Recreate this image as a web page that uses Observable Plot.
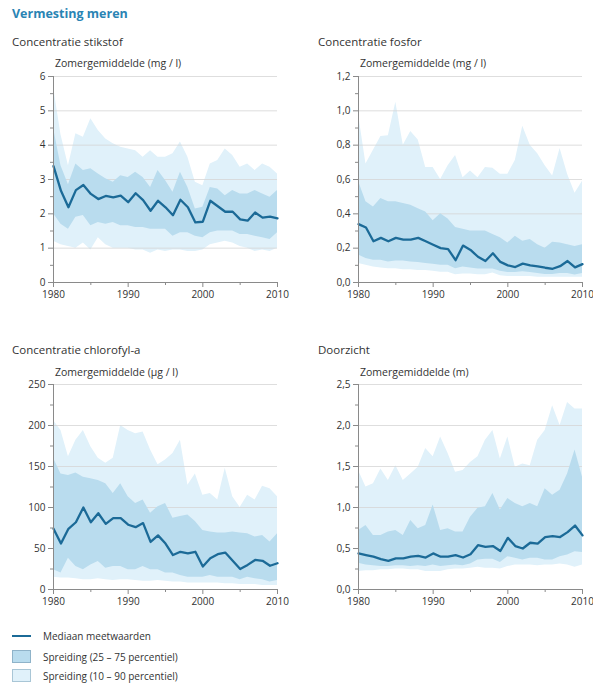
<!DOCTYPE html>
<html>
<head>
<meta charset="utf-8">
<script src="https://cdn.jsdelivr.net/npm/d3@7"></script>
<script src="https://cdn.jsdelivr.net/npm/@observablehq/plot@0.6"></script>
<style>
  body { margin:0; background:#fff; }
  #root { position:relative; width:593px; height:684px; overflow:hidden; font-family:"Open Sans", "Noto Sans", sans-serif; color:#333; }
  .t { position:absolute; white-space:nowrap; line-height:1; }
  .main { left:12px; top:8px; font-size:12.5px; font-weight:700; color:#2a84b4; }
  .ptitle { font-size:11.5px; color:#333; }
  .sub { font-size:10.5px; color:#333; }
  .chart { position:absolute; }
  .leg { font-size:10px; color:#333; }
  .sw { position:absolute; width:19px; height:13px; box-sizing:border-box; }
</style>
</head>
<body>
<div id="root">
  <div class="t main">Vermesting meren</div>
  <div class="t ptitle" style="left:12px;top:36px">Concentratie stikstof</div>
  <div class="t ptitle" style="left:318px;top:36px">Concentratie fosfor</div>
  <div class="t ptitle" style="left:12px;top:344px">Concentratie chlorofyl-a</div>
  <div class="t ptitle" style="left:318px;top:344px">Doorzicht</div>
  <div class="t sub" style="left:55px;top:58px">Zomergemiddelde (mg / l)</div>
  <div class="t sub" style="left:360px;top:58px">Zomergemiddelde (mg / l)</div>
  <div class="t sub" style="left:55px;top:367px">Zomergemiddelde (µg / l)</div>
  <div class="t sub" style="left:360px;top:367px">Zomergemiddelde (m)</div>
  <div id="c1" class="chart" style="left:0px;top:66px"></div>
  <div id="c2" class="chart" style="left:305px;top:66px"></div>
  <div id="c3" class="chart" style="left:0px;top:374px"></div>
  <div id="c4" class="chart" style="left:305px;top:374px"></div>
  <div style="position:absolute;left:12px;top:635px;width:19px;height:2px;background:#1b6a97"></div>
  <div class="t leg" style="left:43px;top:631px">Mediaan meetwaarden</div>
  <div class="sw" style="left:12px;top:650px;background:#b9dcee;border:1px solid #8fb3c9"></div>
  <div class="t leg" style="left:43px;top:652px">Spreiding (25 – 75 percentiel)</div>
  <div class="sw" style="left:12px;top:669px;background:#e0f1fa;border:1px solid #a9c6d6"></div>
  <div class="t leg" style="left:43px;top:671px">Spreiding (10 – 90 percentiel)</div>
</div>
<script>
const years = [1980,1981,1982,1983,1984,1985,1986,1987,1988,1989,1990,1991,1992,1993,1994,1995,1996,1997,1998,1999,2000,2001,2002,2003,2004,2005,2006,2007,2008,2009,2010];
const xTicks = [1980,1990,2000,2010];
const xMinor = [1985,1995,2005];

// Stikstof (mg/l)
const nMed = [3.39,2.67,2.19,2.69,2.84,2.58,2.43,2.52,2.48,2.53,2.34,2.60,2.40,2.09,2.38,2.19,1.96,2.41,2.19,1.75,1.77,2.38,2.22,2.06,2.06,1.84,1.80,2.04,1.89,1.92,1.87];
const nP10 = [1.20,1.10,1.05,1.00,1.15,0.95,1.30,1.10,1.00,1.00,1.00,0.95,0.95,0.85,0.95,0.90,0.95,0.95,0.90,0.90,0.95,1.10,1.15,1.20,1.15,1.05,1.00,0.90,0.95,0.90,1.00];
const nP25 = [2.00,1.70,1.55,1.90,1.95,1.65,1.75,1.70,1.75,1.65,1.65,1.60,1.60,1.55,1.55,1.55,1.35,1.45,1.45,1.35,1.30,1.45,1.50,1.50,1.50,1.40,1.40,1.35,1.30,1.25,1.45];
const nP75 = [4.50,3.40,2.85,3.45,3.26,3.31,3.16,3.02,2.92,3.11,3.06,3.21,3.06,2.77,3.26,2.97,2.63,3.21,2.77,2.14,2.19,2.77,2.72,2.53,2.68,2.58,2.58,2.68,2.58,2.48,2.68];
const nP90 = [5.70,4.30,3.40,4.33,4.23,4.77,4.43,4.18,4.04,3.94,3.89,3.84,3.65,3.84,3.65,3.65,3.75,4.09,3.65,2.92,2.82,3.45,3.55,3.89,3.70,3.36,3.45,3.26,3.45,3.36,3.16];

// Fosfor (mg/l)
const pMed = [0.34,0.32,0.24,0.26,0.24,0.26,0.25,0.25,0.26,0.24,0.22,0.20,0.195,0.13,0.215,0.19,0.15,0.125,0.17,0.12,0.10,0.09,0.11,0.10,0.094,0.086,0.08,0.095,0.125,0.088,0.107];
const pP10 = [0.11,0.10,0.09,0.085,0.08,0.08,0.075,0.075,0.07,0.07,0.065,0.06,0.06,0.045,0.05,0.05,0.045,0.045,0.055,0.04,0.035,0.035,0.035,0.035,0.03,0.03,0.03,0.03,0.03,0.03,0.03];
const pP25 = [0.16,0.14,0.13,0.13,0.12,0.125,0.125,0.12,0.117,0.11,0.107,0.10,0.10,0.08,0.09,0.085,0.078,0.078,0.078,0.066,0.058,0.058,0.062,0.058,0.053,0.047,0.047,0.053,0.053,0.043,0.053];
const pP75 = [0.59,0.47,0.44,0.49,0.47,0.47,0.46,0.45,0.43,0.41,0.36,0.40,0.37,0.32,0.31,0.30,0.30,0.30,0.28,0.26,0.23,0.27,0.24,0.25,0.22,0.20,0.235,0.23,0.22,0.21,0.22];
const pP90 = [0.98,0.69,0.77,0.85,0.855,1.05,0.80,0.88,0.83,0.67,0.67,0.60,0.68,0.74,0.61,0.65,0.61,0.67,0.665,0.63,0.63,0.71,0.91,0.80,0.75,0.68,0.62,0.78,0.63,0.52,0.59];

// Chlorofyl-a (µg/l)
const cMed = [74,56,74,82,100,82,93,80,87,87,79,76,81,58,66,56,42,46,44,46,28,38,43,45,35,25,30,36,35,29,32];
const cP10 = [15,14,14,13,12,12,13,12,11,12,12,11,10,10,11,10,9,9,8,8,8,8,8,7,7,6,6,6,5,5,5];
const cP25 = [24,20,38,28,24,30,34,26,28,28,24,24,28,24,24,20,20,17,15,15,15,17,15,15,15,12,15,13,12,9,11];
const cP75 = [160,141,139,142,137,135,133,129,117,129,113,105,109,93,101,105,87,89,91,83,72,70,69,69,70,69,68,64,66,58,68];
const cP90 = [206,194,162,182,194,174,160,154,160,200,194,190,192,170,152,158,166,182,127,141,115,117,109,148,113,100,115,109,126,123,113];

// Doorzicht (m)
const dMed = [0.44,0.42,0.40,0.37,0.35,0.38,0.38,0.40,0.41,0.39,0.44,0.40,0.40,0.42,0.39,0.43,0.54,0.52,0.53,0.47,0.63,0.53,0.50,0.57,0.56,0.64,0.65,0.64,0.70,0.78,0.66];
const dP10 = [0.22,0.23,0.23,0.24,0.24,0.25,0.25,0.24,0.24,0.22,0.22,0.22,0.24,0.25,0.25,0.26,0.27,0.26,0.26,0.25,0.28,0.30,0.30,0.30,0.29,0.30,0.30,0.31,0.30,0.27,0.30];
const dP25 = [0.32,0.30,0.29,0.28,0.28,0.29,0.29,0.28,0.29,0.28,0.30,0.28,0.29,0.30,0.29,0.31,0.36,0.37,0.37,0.33,0.40,0.38,0.36,0.38,0.38,0.36,0.36,0.40,0.42,0.46,0.45];
const dP75 = [0.72,0.78,0.66,0.66,0.70,0.72,0.66,0.84,0.74,0.78,1.03,0.72,0.74,0.70,0.70,0.88,0.99,1.01,1.17,0.97,1.11,1.05,1.01,1.05,1.01,1.23,1.15,1.21,1.41,1.70,1.37];
const dP90 = [1.45,1.25,1.29,1.47,1.33,1.51,1.33,1.41,1.49,1.72,1.62,1.86,1.66,1.43,1.45,1.55,1.62,1.82,1.94,1.59,1.86,1.49,1.53,1.51,1.82,1.94,2.24,2.00,2.28,2.20,2.20];

const nTicks = [0,1,2,3,4,5,6], nMinor = [0.5,1.5,2.5,3.5,4.5,5.5];
const pTicks = [0,0.2,0.4,0.6,0.8,1.0,1.2], pMinor = [0.1,0.3,0.5,0.7,0.9,1.1];
const cTicks = [0,50,100,150,200,250], cMinor = [25,75,125,175,225];
const dTicks = [0,0.5,1.0,1.5,2.0,2.5], dMinor = [0.25,0.75,1.25,1.75,2.25];

const LIGHT = "#e0f1fa", DARK = "#b9dcee", LINE = "#1b6a97", AXIS = "#8a8a8a", GRID = "#d6d6d6";
const FONT = '"Open Sans", "Noto Sans", sans-serif';

function rows(med, p10, p25, p75, p90) {
  return years.map((year, i) => ({year, med: med[i], p10: p10[i], p25: p25[i], p75: p75[i], p90: p90[i]}));
}
const comma = d => d.toFixed(1).replace(".", ",");

function panel(el, data, domain, ticks, minor, fmt, width, height) {
  const chart = Plot.plot({
    width, height,
    marginLeft: 53, marginRight: width - 53 - 224, marginTop: 10, marginBottom: height - 10 - (height === 242 ? 206 : 205),
    style: {fontFamily: FONT, fontSize: "10px", color: "#333", overflow: "visible", background: "transparent"},
    x: {domain: [1980, 2010], label: null},
    y: {domain, label: null},
    marks: [
      Plot.areaY(data, {x: "year", y1: "p10", y2: "p90", fill: LIGHT, curve: "linear"}),
      Plot.gridY(ticks.filter(t => t > 0), {stroke: GRID, strokeOpacity: 0.8}),
      Plot.areaY(data, {x: "year", y1: "p25", y2: "p75", fill: DARK, curve: "linear"}),
      Plot.lineY(data, {x: "year", y: "med", stroke: LINE, strokeWidth: 2.3, strokeLinejoin: "round"}),
      Plot.ruleX([1980], {stroke: AXIS, strokeWidth: 1}),
      Plot.ruleY([domain[0]], {stroke: AXIS, strokeWidth: 1}),
      Plot.axisY(minor, {tickSize: 3, tickFormat: () => "", stroke: AXIS, label: null}),
      Plot.axisY(ticks, {tickSize: 5, tickPadding: 3, tickFormat: fmt, stroke: AXIS, fill: "#333", label: null}),
      Plot.axisX(xMinor, {tickSize: 3, tickFormat: () => "", stroke: AXIS, label: null}),
      Plot.axisX(xTicks, {tickSize: 5, tickPadding: 3, tickFormat: d => String(d), stroke: AXIS, fill: "#333", label: null})
    ]
  });
  document.getElementById(el).appendChild(chart);
}

panel("c1", rows(nMed, nP10, nP25, nP75, nP90), [0, 6], nTicks, nMinor, d => String(d), 290, 242);
panel("c2", rows(pMed, pP10, pP25, pP75, pP90), [0, 1.2], pTicks, pMinor, comma, 288, 242);
panel("c3", rows(cMed, cP10, cP25, cP75, cP90), [0, 250], cTicks, cMinor, d => String(d), 290, 241);
panel("c4", rows(dMed, dP10, dP25, dP75, dP90), [0, 2.5], dTicks, dMinor, comma, 288, 241);
</script>
</body>
</html>
